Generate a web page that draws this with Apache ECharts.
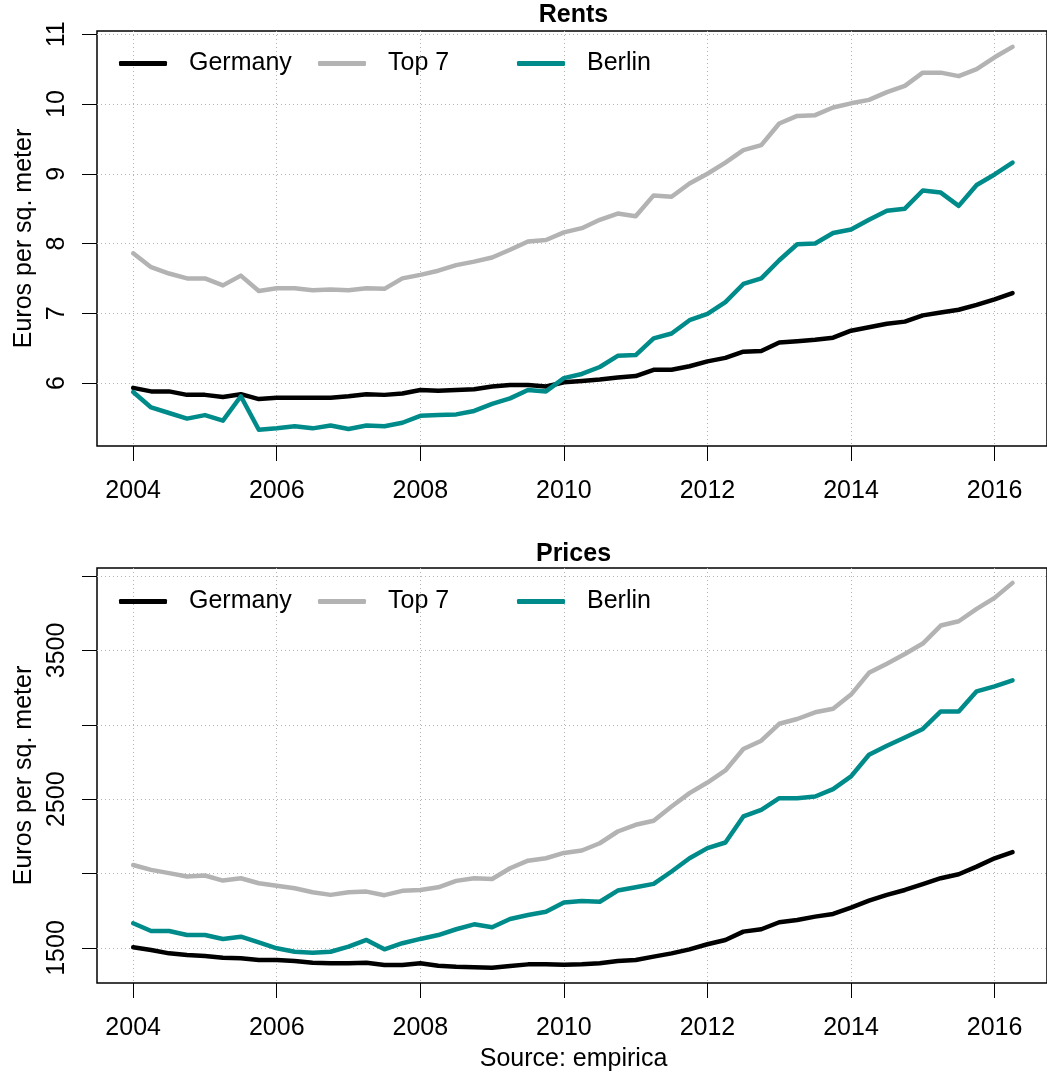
<!DOCTYPE html>
<html>
<head>
<meta charset="utf-8">
<script src="https://cdn.jsdelivr.net/npm/echarts@6/dist/echarts.min.js"></script>
<style>
  html, body { margin: 0; padding: 0; background: #fff; }
  #chart { width: 1047px; height: 1080px; }
</style>
</head>
<body>
<div id="chart"></div>
<script>
  // quarterly observations, 2004 Q1 .. 2016 Q2
  const startYear = 2004;
  const nQuarters = 50;
  const quarters = [];
  for (let i = 0; i < nQuarters; i++) quarters.push(startYear + i * 0.25);

  const yearTicks = [2004, 2006, 2008, 2010, 2012, 2014, 2016];
  const rentTicks = [6, 7, 8, 9, 10, 11];
  const priceTicks = [1500, 2000, 2500, 3000, 3500, 4000];
  const priceLabels = [1500, 2500, 3500];

  const seriesNames = ['Germany', 'Top 7', 'Berlin'];
  const seriesColors = ['#000000', '#b3b3b3', '#008b8b'];

  // rents, euros per sq. meter
  const rentsGermany = [5.93, 5.88, 5.88, 5.83, 5.83, 5.80, 5.84, 5.77, 5.79, 5.79,
    5.79, 5.79, 5.81, 5.84, 5.83, 5.85, 5.90, 5.89, 5.90, 5.91,
    5.95, 5.97, 5.97, 5.95, 6.01, 6.03, 6.05, 6.08, 6.10, 6.19,
    6.19, 6.24, 6.31, 6.36, 6.45, 6.46, 6.58, 6.60, 6.62, 6.65,
    6.75, 6.80, 6.85, 6.88, 6.97, 7.01, 7.05, 7.12, 7.20, 7.29];
  const rentsTop7 = [7.86, 7.66, 7.57, 7.50, 7.50, 7.40, 7.54, 7.32, 7.36, 7.36,
    7.33, 7.34, 7.33, 7.36, 7.35, 7.50, 7.55, 7.61, 7.69, 7.74,
    7.80, 7.91, 8.03, 8.05, 8.16, 8.22, 8.34, 8.43, 8.39, 8.69,
    8.67, 8.86, 9.00, 9.16, 9.34, 9.41, 9.72, 9.83, 9.84, 9.95,
    10.01, 10.06, 10.17, 10.26, 10.45, 10.45, 10.40, 10.50, 10.67, 10.82];
  const rentsBerlin = [5.87, 5.65, 5.57, 5.49, 5.54, 5.46, 5.81, 5.33, 5.35, 5.38,
    5.35, 5.39, 5.34, 5.39, 5.38, 5.43, 5.53, 5.54, 5.55, 5.60,
    5.70, 5.78, 5.90, 5.88, 6.07, 6.13, 6.23, 6.39, 6.40, 6.64,
    6.71, 6.90, 6.99, 7.16, 7.42, 7.50, 7.76, 7.99, 8.00, 8.15,
    8.20, 8.34, 8.47, 8.50, 8.76, 8.73, 8.54, 8.84, 8.99, 9.16];

  // prices, euros per sq. meter
  const pricesGermany = [1505, 1487, 1464, 1453, 1446, 1435, 1431, 1419, 1419, 1412,
    1401, 1397, 1397, 1401, 1386, 1386, 1397, 1381, 1374, 1370,
    1367, 1379, 1390, 1390, 1388, 1390, 1397, 1412, 1419, 1442,
    1464, 1491, 1525, 1554, 1610, 1626, 1673, 1688, 1711, 1729,
    1771, 1818, 1857, 1890, 1929, 1969, 1996, 2047, 2103, 2144];
  const pricesTop7 = [2058, 2025, 2003, 1980, 1987, 1953, 1969, 1935, 1919, 1902,
    1875, 1857, 1875, 1879, 1855, 1884, 1890, 1908, 1951, 1969,
    1964, 2036, 2087, 2103, 2139, 2155, 2204, 2283, 2328, 2355,
    2451, 2541, 2612, 2693, 2837, 2893, 3007, 3039, 3084, 3108,
    3203, 3349, 3411, 3476, 3546, 3667, 3696, 3779, 3853, 3954];
  const pricesBerlin = [1666, 1614, 1614, 1587, 1587, 1561, 1576, 1538, 1498, 1475,
    1468, 1475, 1509, 1554, 1491, 1532, 1561, 1587, 1626, 1659,
    1639, 1695, 1722, 1744, 1806, 1816, 1811, 1886, 1908, 1931,
    2014, 2103, 2171, 2209, 2384, 2429, 2507, 2507, 2518, 2568,
    2653, 2799, 2859, 2915, 2972, 3090, 3090, 3225, 3258, 3299];

  const FONT = '"Liberation Sans", Arial, Helvetica, sans-serif';

  function pairs(vals) {
    return vals.map((v, i) => [quarters[i], v]);
  }

  function makeX(idx) {
    return {
      type: 'value', gridIndex: idx,
      min: 2003.496, max: 2016.73,
      axisLine: { show: false },
      axisTick: { show: true, length: 15, inside: false, customValues: yearTicks,
        lineStyle: { color: '#000', width: 1 } },
      axisLabel: { show: true, customValues: yearTicks, margin: 33,
        fontFamily: FONT, fontSize: 25, color: '#000',
        formatter: v => String(v) },
      splitLine: { show: true, lineStyle: { color: '#b5b5b5', type: [1, 3], width: 1 } }
    };
  }

  function makeY(idx, min, max, ticks, labels) {
    return {
      type: 'value', gridIndex: idx, min: min, max: max,
      name: 'Euros per sq. meter', nameLocation: 'middle', nameGap: 60,
      nameTextStyle: { fontFamily: FONT, fontSize: 25, color: '#000' },
      axisLine: { show: false },
      axisTick: { show: true, length: 15, inside: false, customValues: ticks,
        lineStyle: { color: '#000', width: 1 } },
      axisLabel: { show: true, customValues: labels, rotate: 90, margin: 27,
        fontFamily: FONT, fontSize: 25, color: '#000',
        formatter: v => String(v) },
      splitLine: { show: true, lineStyle: { color: '#b5b5b5', type: [1, 3], width: 1 } }
    };
  }

  function makeLegends(top) {
    const starts = [119, 318, 517];
    return seriesNames.map((name, k) => ({
      data: [name], left: starts[k], top: top, padding: 0,
      icon: 'roundRect', itemWidth: 48, itemHeight: 5,
      textStyle: { fontFamily: FONT, fontSize: 25, color: '#000', padding: [0, 0, 0, 17] },
      selectedMode: false
    }));
  }

  const rents = [rentsGermany, rentsTop7, rentsBerlin];
  const prices = [pricesGermany, pricesTop7, pricesBerlin];

  const series = [];
  [rents, prices].forEach((group, g) => {
    group.forEach((vals, k) => {
      series.push({
        name: seriesNames[k], type: 'line',
        xAxisIndex: g, yAxisIndex: g,
        data: pairs(vals),
        showSymbol: false, symbol: 'none',
        color: seriesColors[k],
        lineStyle: { color: seriesColors[k], width: 4.5, cap: 'round', join: 'round' },
        z: 2 + k
      });
    });
  });

  const chart = echarts.init(document.getElementById('chart'), null, { renderer: 'canvas' });
  chart.setOption({
    animation: false,
    backgroundColor: '#fff',
    title: [
      { text: 'Rents', left: 573.5, top: 3, textAlign: 'center', padding: 0,
        textStyle: { fontFamily: FONT, fontSize: 25, fontWeight: 'bold', color: '#000' } },
      { text: 'Prices', left: 573.5, top: 542, textAlign: 'center', padding: 0,
        textStyle: { fontFamily: FONT, fontSize: 25, fontWeight: 'bold', color: '#000' } },
      { text: 'Source: empirica', left: 573.5, top: 1047, textAlign: 'center', padding: 0,
        textStyle: { fontFamily: FONT, fontSize: 25, fontWeight: 'normal', color: '#000' } }
    ],
    legend: makeLegends(51).concat(makeLegends(589)),
    grid: [
      { left: 97, top: 31, width: 953, height: 415, show: true, borderColor: '#000', borderWidth: 1.5, backgroundColor: 'transparent' },
      { left: 97, top: 568, width: 953, height: 415, show: true, borderColor: '#000', borderWidth: 1.5, backgroundColor: 'transparent' }
    ],
    xAxis: [makeX(0), makeX(1)],
    yAxis: [
      makeY(0, 5.097, 11.047, rentTicks, rentTicks),
      makeY(1, 1264.8, 4053.8, priceTicks, priceLabels)
    ],
    series: series
  });
</script>
</body>
</html>
